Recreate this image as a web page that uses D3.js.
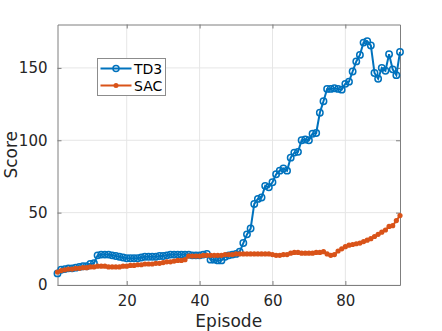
<!DOCTYPE html>
<html><head><meta charset="utf-8">
<script src="https://cdn.jsdelivr.net/npm/d3@7"></script>
<style>html,body{margin:0;padding:0;background:#fff;}</style>
</head><body><svg id="c" width="442" height="331"></svg>
<script>
const episodes = d3.range(1, 96);
const td3 = [8,10.5,11,11.5,11.5,12,12.5,13,13,14.5,15,20.5,21,21,21,20.5,20,19.5,19,18.5,
18.5,18.5,18.5,19,19.5,19.5,19.5,19.5,20,20,20.5,21,21,21,21,21,21,20.5,20.5,20.5,
21,21.5,17.5,17.5,17,17,19.5,20.5,21,21.5,23,29,35,39,56,59.5,60.5,68.5,67.5,71,
76.5,79,80.5,79,88,91.5,92,100,100.5,100,104.5,105,119,127,135.5,135.5,136,135.5,135,139,
140.5,147.5,154.5,159,167.5,168.5,165.5,146.5,142.5,150,148,159.5,149,145,161];
const sac = [9,10,10.5,11,11,11.5,11.5,12,12,12.5,12.5,13,13,13,12.5,12.5,12.5,12.5,13,13,
13.5,13.5,14,14,14.5,14.5,14.5,15,15,15.5,16,16,16.5,17,17,17.5,20,20,20,20,
20.5,20.5,20.5,20.5,20.5,20.5,21,21,21,21.5,21.5,21.5,21.5,21.5,21.5,21.5,21.5,21.5,21.5,21,
20.5,20.5,21,21,22,22.5,22.5,22,22,22,22,22.5,22.5,23,21.5,20.5,21,23.5,25,26.5,
27.5,28,28.5,29,30,31,32,33.5,35,36.5,38,40.5,41,44.5,48];
const xTicks = [20, 40, 60, 80];
const yTicks = [0, 50, 100, 150];
const seriesNames = ["TD3", "SAC"];
const colors = ["#0072BD", "#D95319"];

const svg = d3.select("#c");
const L = 57.5, R = 400, T = 24.5, B = 285;
const x = d3.scaleLinear().domain([1, 95]).range([L, R]);
const y = d3.scaleLinear().domain([0, 180]).range([B, T]);
const font = "DejaVu Sans, sans-serif";
const axisCol = "#262626";

// grid
const g = svg.append("g");
g.selectAll(".gx").data(xTicks).join("line")
  .attr("x1", d => x(d)).attr("x2", d => x(d)).attr("y1", T).attr("y2", B)
  .attr("stroke", "#e6e6e6").attr("stroke-width", 1);
g.selectAll(".gy").data(yTicks).join("line")
  .attr("y1", d => y(d)).attr("y2", d => y(d)).attr("x1", L).attr("x2", R)
  .attr("stroke", "#e6e6e6").attr("stroke-width", 1);

// axes
const tl = -4;
const ax = svg.append("g").attr("transform", `translate(0,${B})`)
  .call(d3.axisBottom(x).tickValues(xTicks).tickSizeInner(tl).tickSizeOuter(0).tickPadding(10));
const axT = svg.append("g").attr("transform", `translate(0,${T})`)
  .call(d3.axisTop(x).tickValues(xTicks).tickSizeInner(tl).tickSizeOuter(0).tickFormat(""));
const ay = svg.append("g").attr("transform", `translate(${L},0)`)
  .call(d3.axisLeft(y).tickValues(yTicks).tickSizeInner(tl).tickSizeOuter(0).tickPadding(10));
const ayR = svg.append("g").attr("transform", `translate(${R},0)`)
  .call(d3.axisRight(y).tickValues(yTicks).tickSizeInner(tl).tickSizeOuter(0).tickFormat(""));
[ax, axT, ay, ayR].forEach(a => {
  a.select(".domain").attr("stroke", "#7f7f7f").attr("stroke-width", 1);
  a.selectAll(".tick line").attr("stroke", "#7f7f7f");
  a.selectAll("text").attr("fill", axisCol).attr("font-family", font).attr("font-size", 15);
});

// lines
const data = [td3, sac];
const line = d3.line().x((d, i) => x(episodes[i])).y(d => y(d));
const plot = svg.append("g");
data.forEach((s, k) => {
  plot.append("path").datum(s).attr("d", line).attr("fill", "none")
    .attr("stroke", colors[k]).attr("stroke-width", 2);
  if (k === 0) {
    plot.selectAll(".m0").data(s).join("circle")
      .attr("cx", (d, i) => x(episodes[i])).attr("cy", d => y(d)).attr("r", 3.2)
      .attr("fill", "none").attr("stroke", colors[k]).attr("stroke-width", 1.5);
  } else {
    plot.selectAll(".m1").data(s).join("circle")
      .attr("cx", (d, i) => x(episodes[i])).attr("cy", d => y(d)).attr("r", 2.6)
      .attr("fill", colors[k]);
  }
});

// labels
svg.append("text").attr("x", (L + R) / 2).attr("y", 327).attr("text-anchor", "middle")
  .attr("font-family", font).attr("font-size", 17).attr("fill", axisCol).text("Episode");
svg.append("text").attr("transform", `translate(17,${(T + B) / 2}) rotate(-90)`)
  .attr("text-anchor", "middle").attr("font-family", font).attr("font-size", 17)
  .attr("fill", axisCol).text("Score");

// legend
const lg = svg.append("g");
lg.append("rect").attr("x", 97.5).attr("y", 58.5).attr("width", 68).attr("height", 37)
  .attr("fill", "#fff").attr("stroke", "#8c8c8c").attr("stroke-width", 1);
seriesNames.forEach((n, k) => {
  const yy = 68.5 + k * 17;
  lg.append("line").attr("x1", 100.5).attr("x2", 131.5).attr("y1", yy).attr("y2", yy)
    .attr("stroke", colors[k]).attr("stroke-width", 2);
  if (k === 0) lg.append("circle").attr("cx", 116).attr("cy", yy).attr("r", 3)
    .attr("fill", "none").attr("stroke", colors[k]).attr("stroke-width", 1.5);
  else lg.append("circle").attr("cx", 116).attr("cy", yy).attr("r", 2.5).attr("fill", colors[k]);
  lg.append("text").attr("x", 134).attr("y", yy + 5).attr("font-family", font)
    .attr("font-size", 14).attr("fill", "#000").text(n);
});
</script></body></html>
